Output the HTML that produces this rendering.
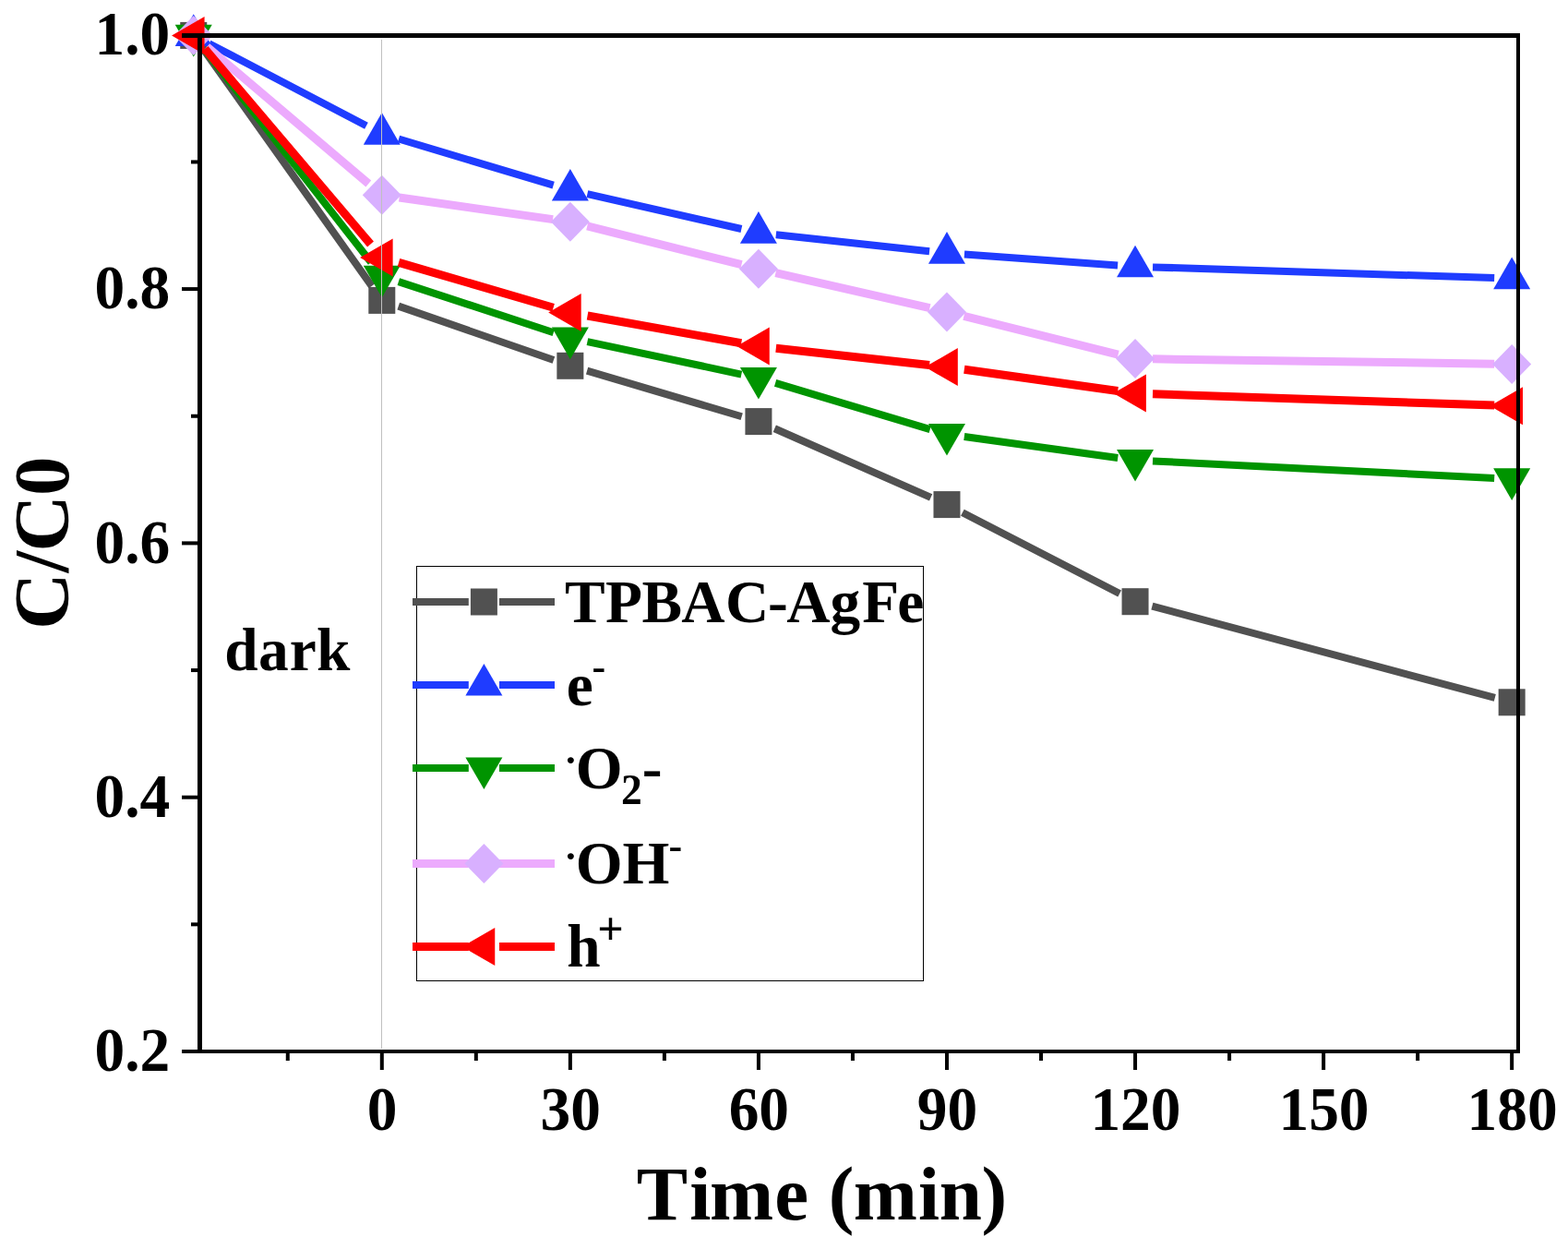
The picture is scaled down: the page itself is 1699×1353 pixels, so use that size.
<!DOCTYPE html>
<html><head><meta charset="utf-8"><style>html,body{margin:0;padding:0;background:#fff;}svg{display:block;}</style></head>
<body><svg width="1699" height="1353" viewBox="0 0 1699 1353"><path d="M220.75 53.88L402.79 309.92M431.75 331.64L599.91 390.06M636.08 401.68L803.70 451.22M839.30 464.27L1008.60 538.93M1042.87 555.30L1213.15 643.00M1248.40 656.61L1619.80 755.89" stroke="#515151" stroke-width="8" fill="none"/>
<rect x="195.24" y="23.90" width="29" height="29" fill="#515151"/>
<rect x="399.30" y="310.90" width="29" height="29" fill="#515151"/>
<rect x="603.36" y="381.80" width="29" height="29" fill="#515151"/>
<rect x="807.42" y="442.10" width="29" height="29" fill="#515151"/>
<rect x="1011.48" y="532.10" width="29" height="29" fill="#515151"/>
<rect x="1215.54" y="637.20" width="29" height="29" fill="#515151"/>
<rect x="1623.66" y="746.30" width="29" height="29" fill="#515151"/>
<path d="M226.58 47.20L396.96 136.30M432.01 150.53L599.65 200.57M636.39 210.20L803.39 248.00M840.81 254.24L1007.09 272.16M1044.93 275.56L1211.09 287.44M1249.03 289.40L1619.17 301.10" stroke="#1F3CFF" stroke-width="8" fill="none"/>
<polygon points="209.74,15.31 229.74,49.95 189.74,49.95" fill="#1F3CFF"/>
<polygon points="413.80,122.01 433.80,156.65 393.80,156.65" fill="#1F3CFF"/>
<polygon points="617.86,182.91 637.86,217.55 597.86,217.55" fill="#1F3CFF"/>
<polygon points="821.92,229.11 841.92,263.75 801.92,263.75" fill="#1F3CFF"/>
<polygon points="1025.98,251.11 1045.98,285.75 1005.98,285.75" fill="#1F3CFF"/>
<polygon points="1230.04,265.71 1250.04,300.35 1210.04,300.35" fill="#1F3CFF"/>
<polygon points="1638.16,278.61 1658.16,313.25 1618.16,313.25" fill="#1F3CFF"/>
<path d="M221.45 53.36L402.09 284.24M431.85 305.12L599.81 360.18M636.44 370.05L803.34 405.55M840.12 414.94L1007.78 465.06M1044.80 473.08L1211.22 495.92M1249.02 499.45L1619.18 517.95" stroke="#009400" stroke-width="8" fill="none"/>
<polygon points="209.74,61.49 229.74,26.85 189.74,26.85" fill="#009400"/>
<polygon points="413.80,322.29 433.80,287.65 393.80,287.65" fill="#009400"/>
<polygon points="617.86,389.19 637.86,354.55 597.86,354.55" fill="#009400"/>
<polygon points="821.92,432.59 841.92,397.95 801.92,397.95" fill="#009400"/>
<polygon points="1025.98,493.59 1045.98,458.95 1005.98,458.95" fill="#009400"/>
<polygon points="1230.04,521.59 1250.04,486.95 1210.04,486.95" fill="#009400"/>
<polygon points="1638.16,541.99 1658.16,507.35 1618.16,507.35" fill="#009400"/>
<path d="M224.24 50.68L399.30 199.02M432.61 213.97L599.05 237.63M636.29 244.91L803.49 286.69M840.44 295.53L1007.46 333.67M1044.42 342.48L1211.60 384.02M1249.04 388.87L1619.16 394.13" stroke="#ECAAFD" stroke-width="9" fill="none"/>
<polygon points="209.74,16.90 230.74,38.40 209.74,59.90 188.74,38.40" fill="#D8B0FF"/>
<polygon points="413.80,189.80 434.80,211.30 413.80,232.80 392.80,211.30" fill="#D8B0FF"/>
<polygon points="617.86,218.80 638.86,240.30 617.86,261.80 596.86,240.30" fill="#D8B0FF"/>
<polygon points="821.92,269.80 842.92,291.30 821.92,312.80 800.92,291.30" fill="#D8B0FF"/>
<polygon points="1025.98,316.40 1046.98,337.90 1025.98,359.40 1004.98,337.90" fill="#D8B0FF"/>
<polygon points="1230.04,367.10 1251.04,388.60 1230.04,410.10 1209.04,388.60" fill="#D8B0FF"/>
<polygon points="1638.16,372.90 1659.16,394.40 1638.16,415.90 1617.16,394.40" fill="#D8B0FF"/>
<path d="M222.03 52.89L401.51 264.51M432.04 284.33L599.62 333.27M636.56 341.95L803.22 371.75M840.81 377.18L1007.09 395.52M1044.80 400.23L1211.22 423.47M1249.03 426.73L1619.17 439.07" stroke="#FF0000" stroke-width="9" fill="none"/>
<polygon points="186.07,38.40 221.58,17.90 221.58,58.90" fill="#FF0000"/>
<polygon points="390.13,279.00 425.64,258.50 425.64,299.50" fill="#FF0000"/>
<polygon points="594.19,338.60 629.70,318.10 629.70,359.10" fill="#FF0000"/>
<polygon points="798.25,375.10 833.76,354.60 833.76,395.60" fill="#FF0000"/>
<polygon points="1002.31,397.60 1037.82,377.10 1037.82,418.10" fill="#FF0000"/>
<polygon points="1206.37,426.10 1241.88,405.60 1241.88,446.60" fill="#FF0000"/>
<polygon points="1614.49,439.70 1650.00,419.20 1650.00,460.20" fill="#FF0000"/>
<rect x="413" y="43" width="1" height="1093" fill="#C0C0C0"/>
<g fill="#000">
<rect x="214" y="36" width="5" height="1105"/>
<rect x="197" y="36" width="1450" height="5"/>
<rect x="1643" y="36" width="4" height="1105"/>
<rect x="197" y="1137" width="1450" height="4"/>
<rect x="197" y="861.70" width="18" height="4"/>
<rect x="197" y="586.40" width="18" height="4"/>
<rect x="197" y="311.10" width="18" height="4"/>
<rect x="207" y="999.35" width="8" height="4"/>
<rect x="207" y="724.05" width="8" height="4"/>
<rect x="207" y="448.75" width="8" height="4"/>
<rect x="207" y="173.45" width="8" height="4"/>
<rect x="411.80" y="1140" width="4" height="19"/>
<rect x="615.86" y="1140" width="4" height="19"/>
<rect x="819.92" y="1140" width="4" height="19"/>
<rect x="1023.98" y="1140" width="4" height="19"/>
<rect x="1228.04" y="1140" width="4" height="19"/>
<rect x="1432.10" y="1140" width="4" height="19"/>
<rect x="1636.16" y="1140" width="4" height="19"/>
<rect x="309.77" y="1140" width="4" height="9"/>
<rect x="513.83" y="1140" width="4" height="9"/>
<rect x="717.89" y="1140" width="4" height="9"/>
<rect x="921.95" y="1140" width="4" height="9"/>
<rect x="1126.01" y="1140" width="4" height="9"/>
<rect x="1330.07" y="1140" width="4" height="9"/>
<rect x="1534.13" y="1140" width="4" height="9"/>
</g>
<g font-family="'Liberation Serif', serif" font-weight="bold" fill="#000">
<text transform="translate(184.30,59.00) scale(1,1.02)" font-size="65.4" text-anchor="end">1.0</text>
<text transform="translate(184.30,334.30) scale(1,1.02)" font-size="65.4" text-anchor="end">0.8</text>
<text transform="translate(184.30,609.60) scale(1,1.02)" font-size="65.4" text-anchor="end">0.6</text>
<text transform="translate(184.30,884.90) scale(1,1.02)" font-size="65.4" text-anchor="end">0.4</text>
<text transform="translate(184.30,1160.20) scale(1,1.02)" font-size="65.4" text-anchor="end">0.2</text>
<text transform="translate(414.20,1223.50) scale(1,1.02)" font-size="65.4" text-anchor="middle">0</text>
<text transform="translate(618.26,1223.50) scale(1,1.02)" font-size="65.4" text-anchor="middle">30</text>
<text transform="translate(822.32,1223.50) scale(1,1.02)" font-size="65.4" text-anchor="middle">60</text>
<text transform="translate(1026.38,1223.50) scale(1,1.02)" font-size="65.4" text-anchor="middle">90</text>
<text transform="translate(1230.44,1223.50) scale(1,1.02)" font-size="65.4" text-anchor="middle">120</text>
<text transform="translate(1434.50,1223.50) scale(1,1.02)" font-size="65.4" text-anchor="middle">150</text>
<text transform="translate(1638.56,1223.50) scale(1,1.02)" font-size="65.4" text-anchor="middle">180</text>
<text x="243.26 279.99 313.81 343.05" y="726.2" font-size="65.4">dark</text>
<text x="689.85 747.17 769.12 839.29 876.13 897.74 924.87 995.07 1017.83 1063.52" y="1320.8" font-size="83">Time (min)</text>
<text transform="translate(74.3,700) rotate(-90)" x="17.97 79.47 102.27 162.95" y="0" font-size="85">C/C0</text>
</g>
<rect x="451.5" y="613.5" width="549" height="449" fill="none" stroke="#000" stroke-width="1"/>
<path d="M447 652L507.80 652M541.00 652L601 652" stroke="#515151" stroke-width="8" fill="none"/>
<rect x="509.90" y="637.50" width="29" height="29" fill="#515151"/>
<path d="M447 742L507.80 742M541.00 742L601 742" stroke="#1F3CFF" stroke-width="8" fill="none"/>
<polygon points="524.40,718.91 544.40,753.55 504.40,753.55" fill="#1F3CFF"/>
<path d="M447 832L507.80 832M541.00 832L601 832" stroke="#009400" stroke-width="8" fill="none"/>
<polygon points="524.40,855.09 544.40,820.45 504.40,820.45" fill="#009400"/>
<path d="M447 935.5L507.80 935.5M541.00 935.5L601 935.5" stroke="#ECAAFD" stroke-width="9" fill="none"/>
<polygon points="524.40,914.00 545.40,935.50 524.40,957.00 503.40,935.50" fill="#D8B0FF"/>
<path d="M447 1025.5L507.80 1025.5M541.00 1025.5L601 1025.5" stroke="#FF0000" stroke-width="9" fill="none"/>
<polygon points="500.73,1025.50 536.24,1005.00 536.24,1046.00" fill="#FF0000"/>
<g font-family="'Liberation Serif', serif" font-weight="bold" fill="#000" font-size="65.4">
<text x="612.02 655.99 695.51 738.36 785.98 832.06 852.36 899.41 934.13 972.16" y="674.2">TPBAC-AgFe</text>
<text x="613.7" y="764.2">e<tspan x="641.5" y="737.4" font-size="44">-</tspan></text>
<text x="612.5" y="854.3"><tspan x="613" y="827.2" font-size="43">.</tspan><tspan x="623.7" y="854.3">O</tspan><tspan x="673" y="870.8" font-size="45.5">2</tspan><tspan x="695.7" y="854.3">-</tspan></text>
<text x="612.5" y="956.9"><tspan x="613" y="931.3" font-size="43">.</tspan><tspan x="623.7" y="956.9">OH</tspan><tspan x="724.5" y="931" font-size="44">-</tspan></text>
<text x="614.2" y="1046.8">h<tspan x="647.2" y="1023" font-size="50">+</tspan></text>
</g></svg></body></html>
